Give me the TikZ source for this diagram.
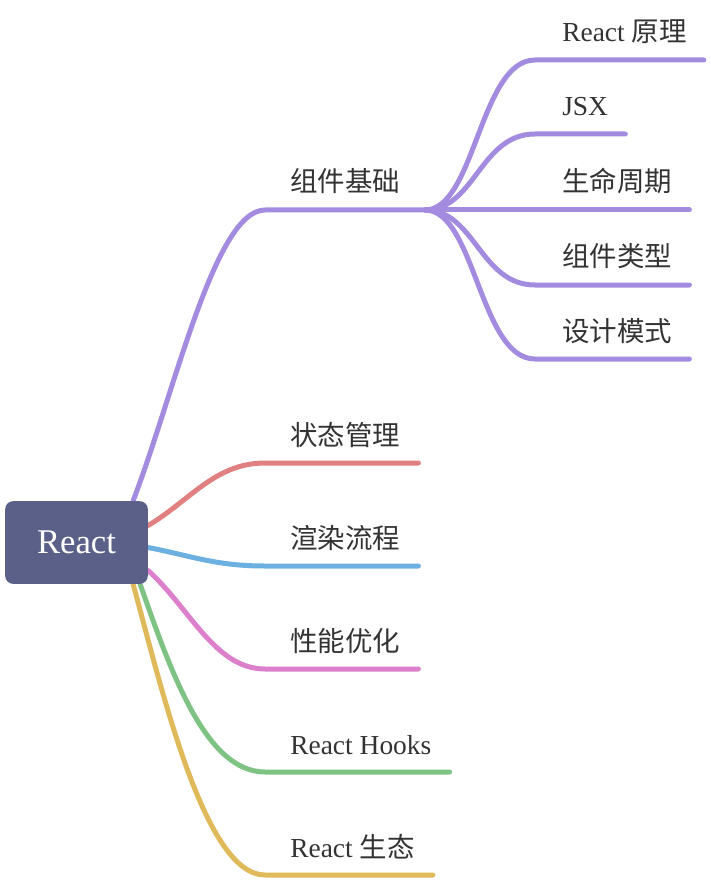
\documentclass[tikz,border=0pt]{standalone}
\usepackage{fontspec}
\setmainfont{Liberation Serif}
\newfontfamily\cjk{Noto Sans CJK SC}
\usetikzlibrary{positioning,calc,backgrounds}

\definecolor{rootfill}{RGB}{90,96,135}
\definecolor{labeltext}{RGB}{51,51,51}
\definecolor{mmpurple}{RGB}{163,139,224}
\definecolor{mmred}{RGB}{224,128,128}
\definecolor{mmblue}{RGB}{107,176,224}
\definecolor{mmpink}{RGB}{221,128,204}
\definecolor{mmgreen}{RGB}{126,195,132}
\definecolor{mmyellow}{RGB}{224,185,91}

\begin{document}
\begin{tikzpicture}[
                x=0.75pt, y=-0.75pt,
                every node/.style={
                    inner sep=0,
                    anchor=base west,
                    text=labeltext,
                    font=\fontsize{20.6}{24}\selectfont
                },
                rootbox/.style={
                    rectangle,
                    anchor=center,
                    rounded corners=6pt,
                    fill=rootfill,
                    text=white,
                    minimum width=107pt,
                    minimum height=62pt,
                    font=\fontsize{26}{30}\selectfont
                },
                branch/.style={line width=3.75pt, line cap=round}
            ]
            \useasboundingbox (0,0) rectangle (710,880);

            % 中心节点
            \node[rootbox] (root) at (76.5,542.5) {React};

            % 一级分支
            \node (comp)   at (290,192) {\cjk 组件基础};
            \node (state)  at (290,445) {\cjk 状态管理};
            \node (render) at (290,548) {\cjk 渲染流程};
            \node (perf)   at (290,651) {\cjk 性能优化};
            \node (hooks)  at (290,754) {React Hooks};
            \node (eco)    at (290,857) {React {\cjk 生态}};

            % 二级分支
            \node (principle) at (562,42)  {React {\cjk 原理}};
            \node (jsx)       at (562,116) {JSX};
            \node (life)      at (562,192) {\cjk 生命周期};
            \node (kind)      at (562,267) {\cjk 组件类型};
            \node (pattern)   at (562,341) {\cjk 设计模式};

            \coordinate (r1) at ($(root.north east)+(-15,0)$);
            \coordinate (r2) at ($(root.east)+(0,-17)$);
            \coordinate (r3) at ($(root.east)+(0,5)$);
            \coordinate (r4) at ($(root.east)+(0,28)$);
            \coordinate (r5) at ($(root.south east)+(-8,0)$);
            \coordinate (r6) at ($(root.south east)+(-15,0)$);
            \coordinate (fan) at (425,210);

            \foreach \n in {comp,state,render,perf,hooks,eco} {
                \coordinate (\n-l) at ($(\n.base west)+(-25,18)$);
                \coordinate (\n-r) at ($(\n.base east)+(18,18)$);
            }
            \foreach \n in {principle,jsx,life,kind,pattern} {
                \coordinate (\n-l) at ($(\n.base west)+(-27,18)$);
                \coordinate (\n-r) at ($(\n.base east)+(17,18)$);
            }

            \begin{scope}[on background layer]
                \draw[branch, mmpurple] (r1) .. controls +(42,-110) and +(-50,0) .. (comp-l) -- (fan);
                \draw[branch, mmred]    (r2) .. controls +(42,-25) and +(-50,0) .. (state-l) -- (state-r);
                \draw[branch, mmblue]   (r3) .. controls +(42,8) and +(-50,0) .. (render-l) -- (render-r);
                \draw[branch, mmpink]   (r4) .. controls +(42,38) and +(-50,0) .. (perf-l) -- (perf-r);
                \draw[branch, mmgreen]  (r5) .. controls +(30,85) and +(-60,0) .. (hooks-l) -- (hooks-r);
                \draw[branch, mmyellow] (r6) .. controls +(30,110) and +(-60,0) .. (eco-l) -- (eco-r);

                \foreach \n in {principle,jsx,kind,pattern}
                    \draw[branch, mmpurple] (fan) .. controls +(50,0) and +(-55,0) .. (\n-l) -- (\n-r);
                \draw[branch, mmpurple] (fan) -- (life-l) -- (life-r);
            \end{scope}
            \end{tikzpicture}
\end{document}
